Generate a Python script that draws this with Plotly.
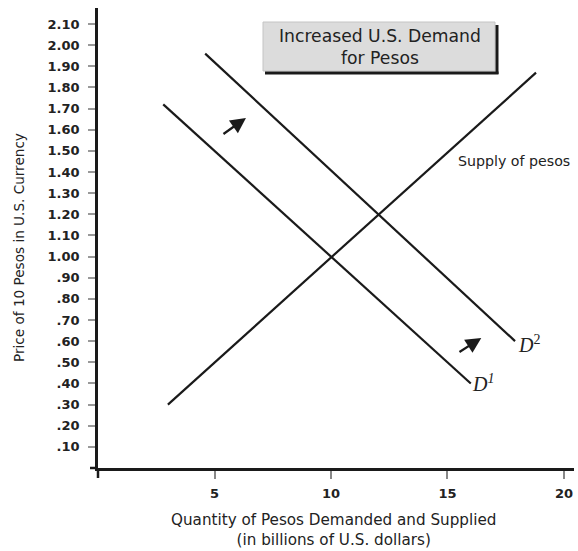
import plotly.graph_objects as go

# ---- data ----
supply_q = [3.0, 18.8]
supply_p = [0.30, 1.87]
d1_q = [2.8, 16.0]
d1_p = [1.72, 0.40]
d2_q = [4.6, 17.9]
d2_p = [1.96, 0.60]

y_tickvals = [0.1, 0.2, 0.3, 0.4, 0.5, 0.6, 0.7, 0.8, 0.9, 1.0, 1.1, 1.2, 1.3,
              1.4, 1.5, 1.6, 1.7, 1.8, 1.9, 2.0, 2.1]
y_ticktext = [".10", ".20", ".30", ".40", ".50", ".60", ".70", ".80", ".90",
              "1.00", "1.10", "1.20", "1.30", "1.40", "1.50", "1.60", "1.70",
              "1.80", "1.90", "2.00", "2.10"]
x_tickvals = [5, 10, 15, 20]
x_ticktext = ["5", "10", "15", "20"]

# shift arrows (tail -> head)
arrow1 = dict(tail=(5.32, 1.575), head=(6.35, 1.656))
arrow2 = dict(tail=(15.45, 0.544), head=(16.45, 0.615))

FONT = "DejaVu Sans, sans-serif"
SERIF = "Liberation Serif, DejaVu Serif, serif"
LINE = "#1a1a1a"

fig = go.Figure()
for q, p in [(supply_q, supply_p), (d1_q, d1_p), (d2_q, d2_p)]:
    fig.add_trace(go.Scatter(x=q, y=p, mode="lines",
                             line=dict(color=LINE, width=2.2),
                             showlegend=False, hoverinfo="skip"))

W, H = 578, 551
L, R, T, B = 98, 4, 8, 83

fig.update_layout(
    width=W, height=H,
    margin=dict(l=L, r=R, t=T, b=B),
    paper_bgcolor="white", plot_bgcolor="white",
    font=dict(family=FONT, color="#222", size=12),
    xaxis=dict(range=[0, 20.43], showgrid=False, zeroline=False,
               showline=True, linecolor=LINE, linewidth=2.5,
               tickvals=x_tickvals, ticktext=x_ticktext,
               ticks="outside", ticklen=8, tickwidth=1.5, tickcolor="#888",
               tickfont=dict(size=13, family=FONT, color="#222", weight="bold"),
               ticklabelstandoff=4),
    yaxis=dict(range=[0, 2.176], showgrid=False, zeroline=False,
               showline=True, linecolor=LINE, linewidth=2.5,
               tickvals=y_tickvals, ticktext=y_ticktext,
               ticks="outside", ticklen=7, tickwidth=1.5, tickcolor="#999",
               tickfont=dict(size=13, family=FONT, color="#222", weight="bold"),
               ticklabelstandoff=6),
)

def px(xp):
    return (xp - L) / (W - L - R)

def py(yp):
    return (H - B - yp) / (H - T - B)

shapes = [
    # axis extensions past the origin
    dict(type="line", xref="paper", yref="paper", x0=0, x1=0, y0=py(478), y1=0,
         line=dict(color=LINE, width=2.5)),
    dict(type="line", xref="paper", yref="paper", x0=px(90), x1=0, y0=0, y1=0,
         line=dict(color=LINE, width=2.5)),
    # title box
    dict(type="rect", xref="paper", yref="paper", x0=px(263), x1=px(495),
         y0=py(71), y1=py(22), fillcolor="#dcdcdc", line=dict(color="#c4c4c4", width=1)),
    dict(type="line", xref="paper", yref="paper", x0=px(497), x1=px(497),
         y0=py(25), y1=py(74), line=dict(color=LINE, width=3)),
    dict(type="line", xref="paper", yref="paper", x0=px(265), x1=px(498.5),
         y0=py(73), y1=py(73), line=dict(color=LINE, width=3)),
]
fig.update_layout(shapes=shapes)

ann = []
ann.append(dict(xref="paper", yref="paper", x=px(380), y=py(47),
                text="Increased U.S. Demand<br>for Pesos", showarrow=False,
                font=dict(size=17.2, family=FONT, color="#222"),
                xanchor="center", yanchor="middle", align="center"))
ann.append(dict(xref="x", yref="y", x=15.35, y=1.45, text="Supply of pesos",
                showarrow=False, xanchor="left", yanchor="middle",
                font=dict(size=14.2, family=FONT, color="#222")))
ann.append(dict(xref="x", yref="y", x=17.95, y=0.585, text="<i>D</i><sup>2</sup>",
                showarrow=False, xanchor="left", yanchor="middle",
                font=dict(size=20, family=SERIF, color="#222")))
ann.append(dict(xref="x", yref="y", x=15.95, y=0.40, text="<i>D</i><sup><i>1</i></sup>",
                showarrow=False, xanchor="left", yanchor="middle",
                font=dict(size=20, family=SERIF, color="#222")))
for a in (arrow1, arrow2):
    ann.append(dict(xref="x", yref="y", axref="x", ayref="y",
                    x=a["head"][0], y=a["head"][1], ax=a["tail"][0], ay=a["tail"][1],
                    text="", showarrow=True, arrowhead=2, arrowsize=1.4,
                    arrowwidth=2.2, arrowcolor=LINE))
ann.append(dict(xref="paper", yref="paper", x=px(19), y=py(248),
                text="Price of 10 Pesos in U.S. Currency", textangle=-90,
                showarrow=False, xanchor="center", yanchor="middle",
                font=dict(size=13.6, family=FONT, color="#222")))
ann.append(dict(xref="paper", yref="paper", x=px(333), y=py(530),
                text="Quantity of Pesos Demanded and Supplied<br>(in billions of U.S. dollars)",
                showarrow=False, xanchor="center", yanchor="middle", align="center",
                font=dict(size=15.2, family=FONT, color="#222")))
fig.update_layout(annotations=ann)

fig.write_html("out.html", config={"displayModeBar": False},
               post_script="document.body.style.margin='0';document.body.style.overflow='hidden';")
